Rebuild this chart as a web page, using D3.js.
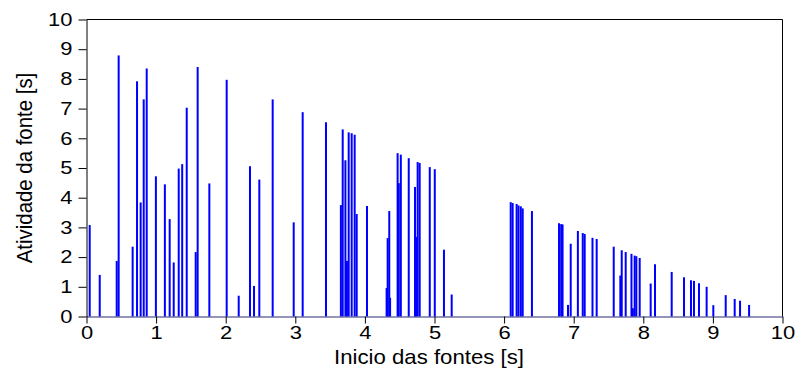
<!DOCTYPE html>
<html>
<head>
<meta charset="utf-8">
<script src="https://cdn.jsdelivr.net/npm/d3@7"></script>
<style>
  html, body { margin: 0; padding: 0; background: #ffffff; }
  svg { display: block; }
  text { font-family: "Liberation Sans", Arial, Helvetica, sans-serif; fill: #000; }
</style>
</head>
<body>
<svg id="chart" width="796" height="369"></svg>
<script>
// Start time of each source [s]
const sourceStart = [
  0.046, 0.19, 0.434, 0.462, 0.663, 0.726, 0.778, 0.822, 0.865, 0.997,
  1.126, 1.195, 1.253, 1.325, 1.375, 1.44, 1.569, 1.597, 1.765, 2.014,
  2.187, 2.349, 2.407, 2.483, 2.675, 2.977, 3.106, 3.441, 3.655, 3.681,
  3.72, 3.742, 3.767, 3.81, 3.853, 3.882, 4.03, 4.312, 4.327, 4.35,
  4.362, 4.47, 4.487, 4.516, 4.63, 4.72, 4.735, 4.758, 4.787, 4.932,
  5.004, 5.136, 5.247, 6.095, 6.123, 6.18, 6.207, 6.24, 6.267, 6.40,
  6.789, 6.82, 6.84, 6.918, 6.957, 7.06, 7.13, 7.158, 7.27, 7.33,
  7.575, 7.67, 7.69, 7.747, 7.83, 7.85, 7.876, 7.90, 7.948, 8.106,
  8.168, 8.408, 8.585, 8.685, 8.728, 8.80, 8.91, 9.006, 9.184, 9.313,
  9.39, 9.52
];

// How long each source stays active [s]
const sourceActivity = [
  3.08, 1.40, 1.87, 8.79, 2.35, 7.92, 3.84, 7.31, 8.35, 4.72,
  4.45, 3.28, 1.82, 4.98, 5.13, 7.03, 2.17, 8.40, 4.48, 7.97,
  0.70, 5.06, 1.03, 4.61, 7.31, 3.17, 6.88, 6.54, 3.75, 6.30,
  5.26, 1.87, 6.20, 6.17, 6.12, 3.45, 3.72, 0.96, 2.64, 3.55,
  0.63, 5.50, 4.49, 5.45, 5.33, 4.36, 2.68, 5.20, 5.17, 5.03,
  4.96, 2.25, 0.74, 3.85, 3.82, 3.79, 3.74, 3.71, 3.64, 3.55,
  3.14, 3.11, 3.10, 0.39, 2.45, 2.88, 2.81, 2.78, 2.65, 2.61,
  2.35, 1.38, 2.23, 2.17, 2.11, 0.28, 2.05, 2.03, 1.97, 1.11,
  1.76, 1.50, 1.32, 1.22, 1.20, 1.12, 1.00, 0.38, 0.72, 0.59,
  0.53, 0.39
];

const xTicks = [0, 1, 2, 3, 4, 5, 6, 7, 8, 9, 10];
const yTicks = [0, 1, 2, 3, 4, 5, 6, 7, 8, 9, 10];
const xDomain = [0, 10];
const yDomain = [0, 10];
const xLabel = "Inicio das fontes [s]";
const yLabel = "Atividade da fonte [s]";

const svg = d3.select("#chart");
const plot = { left: 86.5, right: 782.5, top: 19.5, bottom: 316.5 };

// Text in this figure is set slightly wide
const tickStretch = 1.22;
const titleStretch = 1.11;

const x = d3.scaleLinear().domain(xDomain).range([plot.left, plot.right]);
const y = d3.scaleLinear().domain(yDomain).range([plot.bottom, plot.top]);

// Frame: top and right edges
svg.append("line")
  .attr("x1", plot.left).attr("x2", plot.right)
  .attr("y1", plot.top).attr("y2", plot.top)
  .attr("stroke", "#000").attr("stroke-width", 1);
svg.append("line")
  .attr("x1", plot.right).attr("x2", plot.right)
  .attr("y1", plot.top).attr("y2", plot.bottom)
  .attr("stroke", "#000").attr("stroke-width", 1);

// Activity bars
const bars = sourceStart.map((s, i) => ({ start: s, activity: sourceActivity[i] }));
svg.append("g")
  .selectAll("rect")
  .data(bars)
  .join("rect")
  .attr("x", d => x(d.start) - 1)
  .attr("width", 2)
  .attr("y", d => y(d.activity))
  .attr("height", d => y(0) - y(d.activity))
  .attr("fill", "#0000ff");

// Axes
const xAxis = svg.append("g")
  .attr("transform", `translate(0,${plot.bottom})`)
  .call(d3.axisBottom(x).tickValues(xTicks).tickFormat(d3.format("d"))
    .tickSizeInner(7).tickSizeOuter(0).tickPadding(3));
const yAxis = svg.append("g")
  .attr("transform", `translate(${plot.left},0)`)
  .call(d3.axisLeft(y).tickValues(yTicks).tickFormat(d3.format("d"))
    .tickSizeInner(8).tickSizeOuter(0).tickPadding(6));

xAxis.select(".domain").attr("stroke", "#2b2b78");
yAxis.select(".domain").attr("stroke", "#000");
[xAxis, yAxis].forEach(g => {
  g.selectAll(".tick line").attr("stroke", "#000");
  g.selectAll(".tick text")
    .attr("font-size", 18)
    .attr("font-family", "'Liberation Sans', Arial, sans-serif")
    .attr("fill", "#000");
});

// Widen tick labels around their anchor points
xAxis.selectAll(".tick text")
  .attr("transform", `scale(${tickStretch},1)`);
yAxis.selectAll(".tick text").each(function () {
  const t = d3.select(this);
  const tx = +t.attr("x");
  t.attr("x", 0).attr("transform", `translate(${tx},0) scale(${tickStretch},1)`);
});

// Axis titles
svg.append("text")
  .attr("transform", `translate(429,364) scale(${titleStretch},1)`)
  .attr("text-anchor", "middle")
  .attr("font-size", 20)
  .text(xLabel);

svg.append("text")
  .attr("transform", `translate(31.5,168) rotate(-90) scale(1,${titleStretch})`)
  .attr("text-anchor", "middle")
  .attr("font-size", 20.4)
  .text(yLabel);
</script>
</body>
</html>
